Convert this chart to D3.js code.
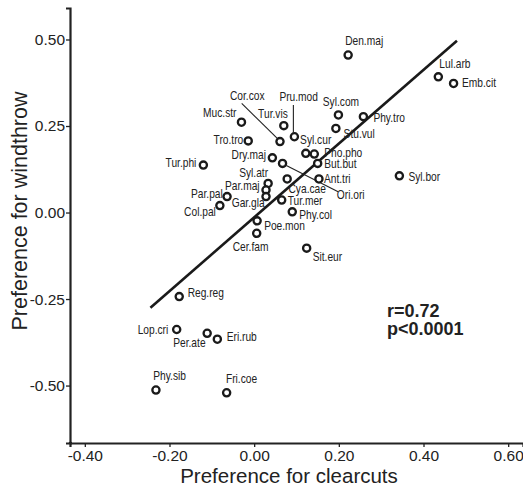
<!DOCTYPE html>
<html>
<head>
<meta charset="utf-8">
<script src="https://cdn.jsdelivr.net/npm/d3@7"></script>
<style>
  html, body { margin: 0; padding: 0; background: #fff; }
  svg { display: block; }
  .sp { font-family: "Liberation Sans", Arial, sans-serif; font-size: 12.3px; fill: #222; }
  .tick text { font-family: "Liberation Sans", Arial, sans-serif; font-size: 15.5px; fill: #222; }
  .title { font-family: "Liberation Sans", Arial, sans-serif; font-size: 20.5px; fill: #222; }
  .stat { font-family: "Liberation Sans", Arial, sans-serif; font-size: 18px; font-weight: bold; fill: #222; }
</style>
</head>
<body>
<script>
// Bird species habitat preference: clearcuts (x) vs windthrow (y)
const species = ["Den.maj","Lul.arb","Emb.cit","Phy.tro","Syl.com","Stu.vul","Muc.str","Tur.vis","Cor.cox","Pru.mod",
  "Tro.tro","Syl.cur","Pho.pho","But.but","Dry.maj","Ori.ori","Tur.phi","Ant.tri","Cya.cae","Syl.bor",
  "Syl.atr","Par.maj","Gar.gla","Par.pal","Tur.mer","Col.pal","Phy.col","Poe.mon","Cer.fam","Sit.eur",
  "Reg.reg","Lop.cri","Per.ate","Eri.rub","Phy.sib","Fri.coe"];
const clearcutPref = [0.222,0.435,0.471,0.258,0.199,0.193,-0.030,0.070,0.061,0.095,
  -0.014,0.122,0.142,0.150,0.043,0.067,-0.120,0.153,0.078,0.343,
  0.033,0.028,0.028,-0.064,0.065,-0.081,0.090,0.007,0.006,0.124,
  -0.177,-0.183,-0.111,-0.087,-0.232,-0.065];
const windthrowPref = [0.455,0.392,0.373,0.277,0.282,0.243,0.261,0.251,0.205,0.219,
  0.207,0.171,0.169,0.142,0.158,0.142,0.137,0.097,0.097,0.106,
  0.084,0.065,0.046,0.046,0.036,0.020,0.002,-0.024,-0.060,-0.103,
  -0.243,-0.338,-0.349,-0.366,-0.513,-0.521];

// Fitted regression line and statistics
const fitSlope = 1.066;
const fitIntercept = -0.014;
const fitRange = [-0.245, 0.479];
const statText = ["r=0.72", "p<0.0001"];

const xTicks = [-0.40, -0.20, 0.00, 0.20, 0.40, 0.60];
const yTicks = [-0.50, -0.25, 0.00, 0.25, 0.50];
const xTitle = "Preference for clearcuts";
const yTitle = "Preference for windthrow";

// Label placement: [anchor, dx, dy] in px from the point
const labelPlacement = {
  "Den.maj":["start",-3,-10], "Lul.arb":["start",1,-8.5], "Emb.cit":["start",8.4,3.4],
  "Phy.tro":["start",10,5], "Syl.com":["start",-15.6,-9], "Stu.vul":["start",7.7,10],
  "Muc.str":["end",-5,-5.6], "Tur.vis":["start",-25.7,-8], "Cor.cox":["start",-50,-41.7],
  "Pru.mod":["start",-15,-36], "Tro.tro":["end",-5,3], "Syl.cur":["start",-5.7,-9.3],
  "Pho.pho":["start",10,2.7], "But.but":["start",6.6,5], "Dry.maj":["start",-40.8,1.3],
  "Ori.ori":["start",54.3,36], "Tur.phi":["end",-7,2], "Ant.tri":["start",5,3.7],
  "Cya.cae":["start",1.3,14.5], "Syl.bor":["start",9,5], "Syl.atr":["start",-29,-6.6],
  "Par.maj":["start",-41,0], "Gar.gla":["start",-34.3,10], "Par.pal":["end",-4.3,1.6],
  "Tur.mer":["start",6,5.3], "Col.pal":["end",-4,10.3], "Phy.col":["start",7,7.3],
  "Poe.mon":["start",7,9.3], "Cer.fam":["start",-24,17.7], "Sit.eur":["start",6,12.4],
  "Reg.reg":["start",8.4,0.6], "Lop.cri":["end",-8.4,4.7], "Per.ate":["end",-1.6,14],
  "Eri.rub":["start",9.4,1.4], "Phy.sib":["start",-2.7,-10], "Fri.coe":["start",-0.7,-9.4]
};
// Leader lines for crowded labels: [x1, y1, x2, y2] in px from the point
const leaders = {
  "Cor.cox":[-38.3,-38.2,-2.7,-3.2],
  "Pru.mod":[-1,-31.7,-1,-4.5],
  "Ori.ori":[3.8,2.2,55.6,28.4]
};
const labelCondense = 0.83; // species labels are set in a condensed face

const W = 523, H = 493;
const plot = {left: 70, right: 523, top: 8, bottom: 443};

const svg = d3.select("body").append("svg").attr("width", W).attr("height", H);

const x = d3.scaleLinear().domain([-0.435, 0.635]).range([plot.left, plot.right]);
const y = d3.scaleLinear().domain([-0.666, 0.591]).range([plot.bottom, plot.top]);

const points = species.map((s, i) => ({name: s, x: clearcutPref[i], y: windthrowPref[i]}));

// Axes
const xAxis = svg.append("g").attr("transform", `translate(0,${plot.bottom})`)
  .call(d3.axisBottom(x).tickValues(xTicks).tickFormat(d => d.toFixed(2)).tickSizeOuter(0).tickSize(4).tickPadding(2.5));
const yAxis = svg.append("g").attr("transform", `translate(${plot.left},0)`)
  .call(d3.axisLeft(y).tickValues(yTicks).tickFormat(d => d.toFixed(2)).tickSizeOuter(0).tickSize(4).tickPadding(1));
[xAxis, yAxis].forEach(g => {
  g.select(".domain").attr("stroke", "#222").attr("stroke-width", 2.2);
  g.selectAll(".tick line").attr("stroke", "#222").attr("stroke-width", 1.3);
  g.attr("font-family", null).attr("font-size", null);
});
// close the corner where the axes meet
svg.append("line").attr("x1", plot.left - 1.1).attr("x2", plot.left + 2).attr("y1", plot.bottom).attr("y2", plot.bottom)
  .attr("stroke", "#222").attr("stroke-width", 2.2);

// Axis titles
svg.append("text").attr("class", "title").attr("x", 289).attr("y", 482.5).attr("text-anchor", "middle").text(xTitle);
svg.append("text").attr("class", "title").attr("text-anchor", "middle").style("font-size", "21.5px")
  .attr("transform", "translate(26.5,211) rotate(-90)").text(yTitle);

// Regression line
svg.append("line")
  .attr("x1", x(fitRange[0])).attr("y1", y(fitIntercept + fitSlope * fitRange[0]))
  .attr("x2", x(fitRange[1])).attr("y2", y(fitIntercept + fitSlope * fitRange[1]))
  .attr("stroke", "#1a1a1a").attr("stroke-width", 2.6);

// Leader lines
svg.append("g").selectAll("line").data(points.filter(p => leaders[p.name])).join("line")
  .attr("x1", p => x(p.x) + leaders[p.name][0]).attr("y1", p => y(p.y) + leaders[p.name][1])
  .attr("x2", p => x(p.x) + leaders[p.name][2]).attr("y2", p => y(p.y) + leaders[p.name][3])
  .attr("stroke", "#222").attr("stroke-width", 1.1);

// Species labels
svg.append("g").selectAll("text").data(points).join("text")
  .attr("class", "sp")
  .attr("text-anchor", p => labelPlacement[p.name][0])
  .attr("transform", p => `translate(${x(p.x) + labelPlacement[p.name][1]},${y(p.y) + labelPlacement[p.name][2]}) scale(${labelCondense},1)`)
  .text(p => p.name);

// Points
svg.append("g").selectAll("circle").data(points).join("circle")
  .attr("cx", p => x(p.x)).attr("cy", p => y(p.y)).attr("r", 3.6)
  .attr("fill", "#fff").attr("stroke", "#1a1a1a").attr("stroke-width", 2.3);

// Correlation statistics
svg.append("text").attr("class", "stat").attr("x", 387).attr("y", 316.5).text(statText[0]);
svg.append("text").attr("class", "stat").attr("x", 387).attr("y", 334.5).text(statText[1]);
</script>
</body>
</html>
